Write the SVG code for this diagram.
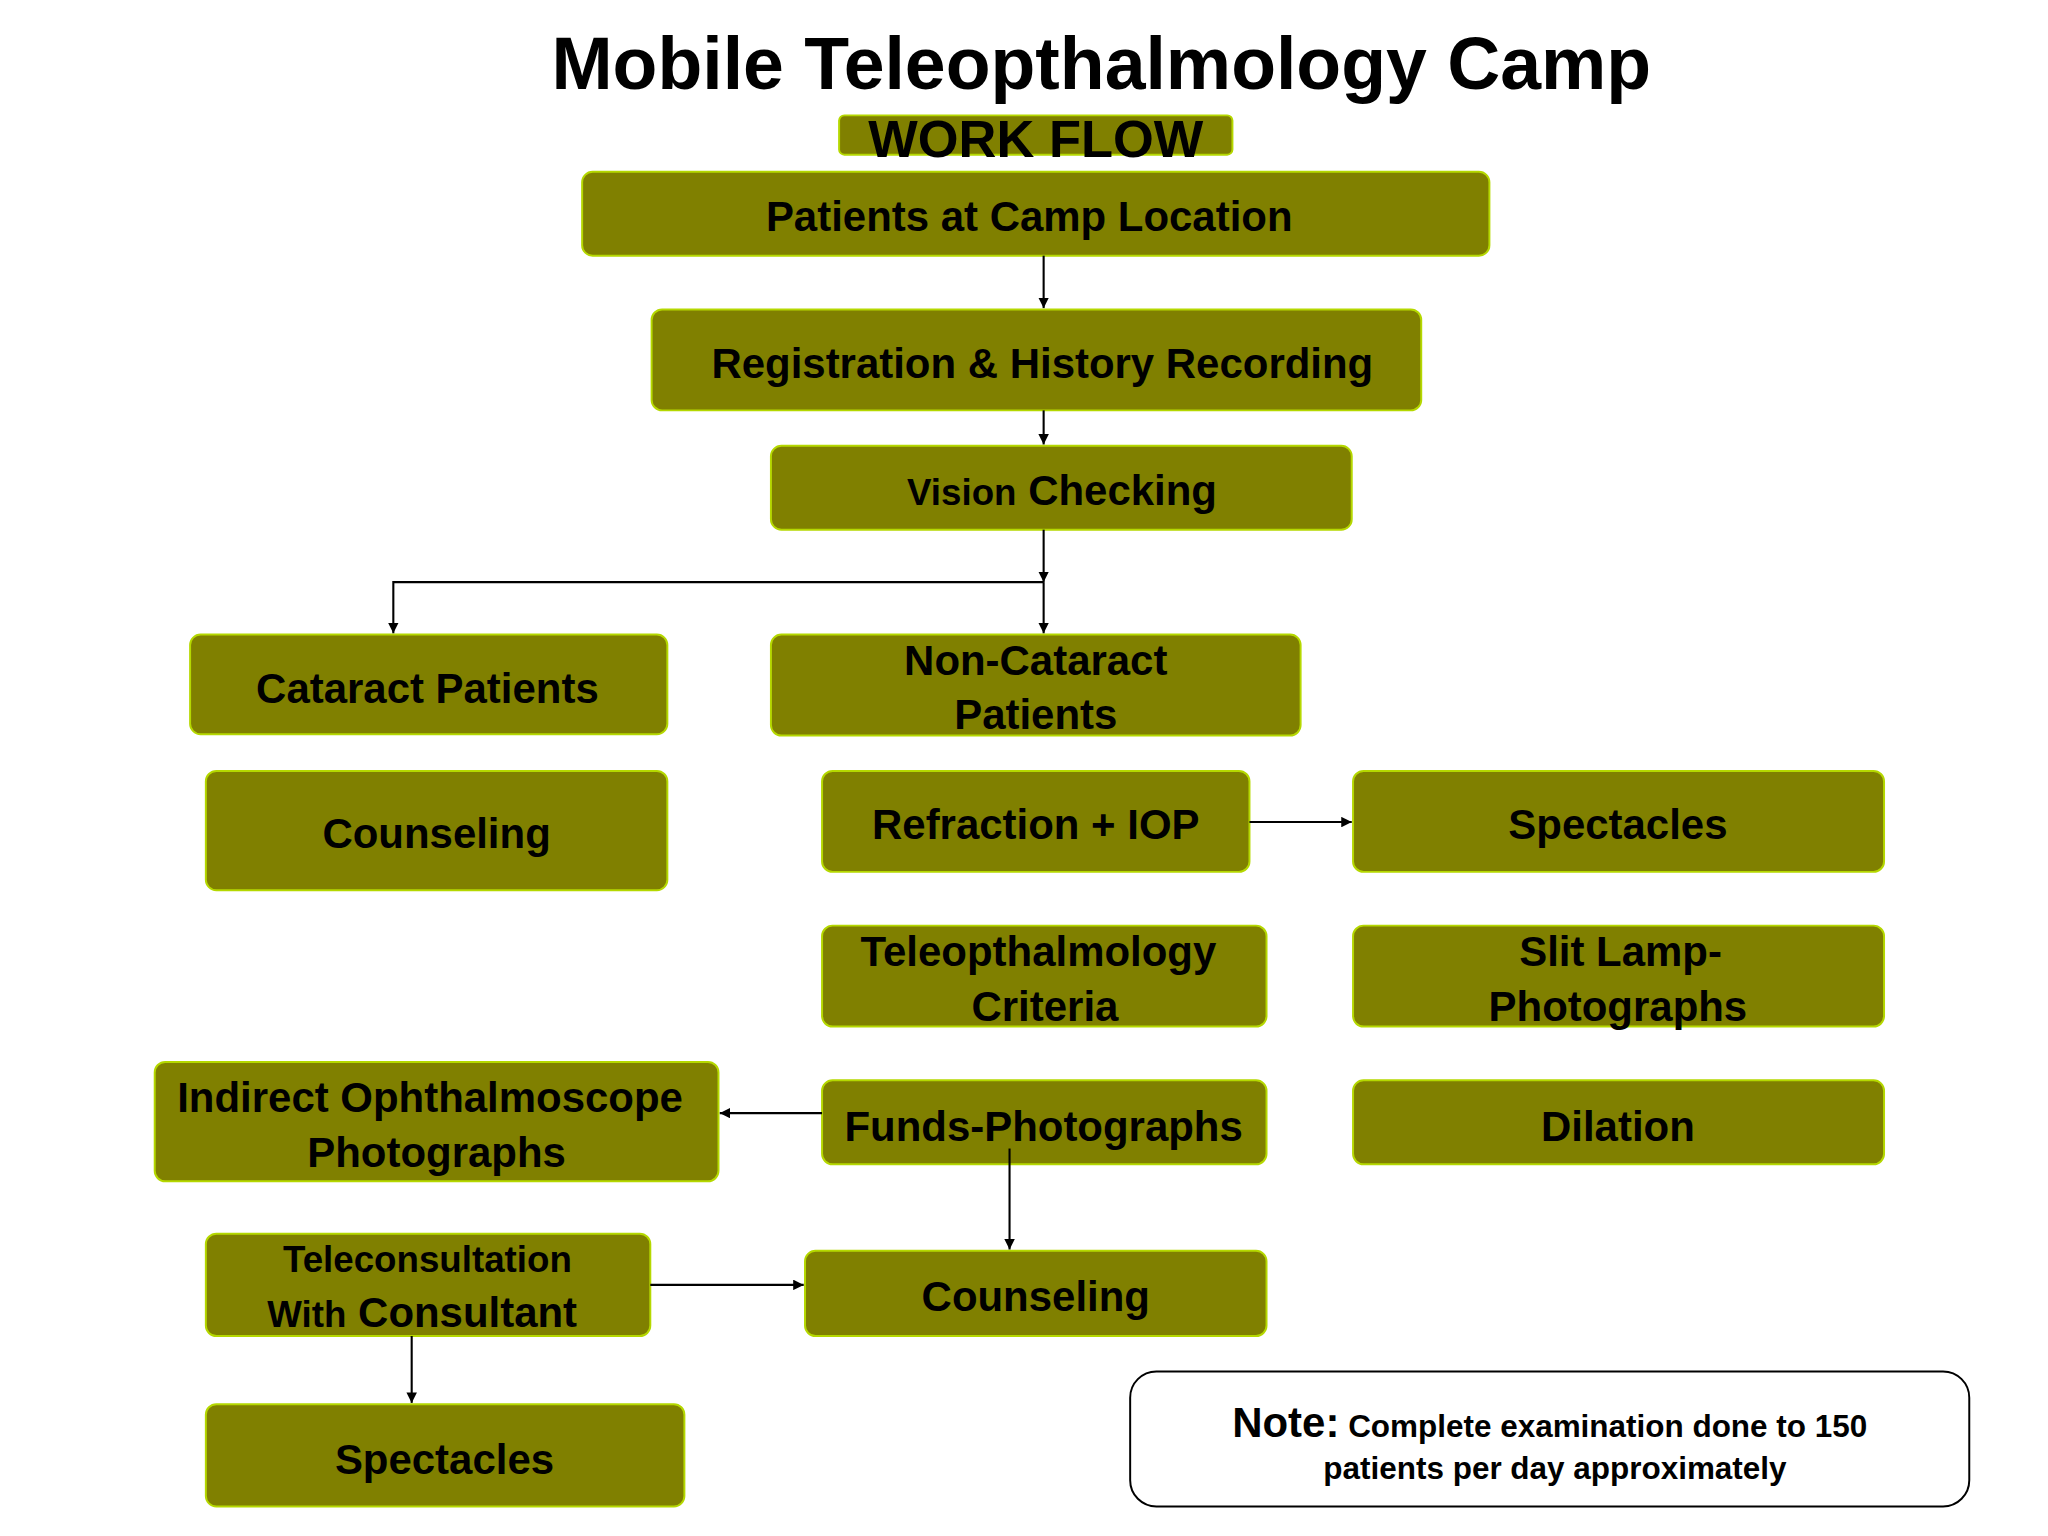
<svg xmlns="http://www.w3.org/2000/svg" width="2048" height="1536" viewBox="0 0 2048 1536">
<style>
.n{fill:#808000;stroke:#b5d800;stroke-width:1.5}
.t{font-family:"Liberation Sans",Arial,sans-serif;font-weight:bold;font-size:32px;fill:#000;text-anchor:middle}
.c{stroke:#000;stroke-width:1.6;fill:none;marker-end:url(#a)}
</style>
<defs><marker id="a" viewBox="0 0 10 10" refX="10" refY="5" markerWidth="8" markerHeight="8" orient="auto" markerUnits="userSpaceOnUse"><path d="M0,0L10,5L0,10z" fill="#000"/></marker></defs>
<rect width="2048" height="1536" fill="#fff"/>
<g transform="scale(1.3111)">
<text class="t" x="840" y="68" style="font-size:56px">Mobile Teleopthalmology Camp</text>
<g id="workflow"><rect class="n" x="640" y="88" width="300" height="30" rx="4"/><text class="t" x="790" y="120" style="font-size:40px">WORK FLOW</text></g>
<g id="n1"><rect class="n" x="444" y="131" width="692" height="64" rx="8"/><text class="t" x="785" y="176">Patients at Camp Location</text></g>
<g id="n2"><rect class="n" x="497" y="236" width="587" height="77" rx="8"/><text class="t" x="795" y="288">Registration &amp; History Recording</text></g>
<g id="n3"><rect class="n" x="588" y="340" width="443" height="64" rx="8"/><text class="t" x="810" y="385"><tspan style="font-size:28px">Vision</tspan> Checking</text></g>
<g id="n4"><rect class="n" x="145" y="484" width="364" height="76" rx="8"/><text class="t" x="326" y="536">Cataract Patients</text></g>
<g id="n5"><rect class="n" x="588" y="484" width="404" height="77" rx="8"/><text class="t" x="790" y="515">Non-Cataract</text><text class="t" x="790" y="556">Patients</text></g>
<g id="n6"><rect class="n" x="157" y="588" width="352" height="91" rx="8"/><text class="t" x="333" y="647">Counseling</text></g>
<g id="n7"><rect class="n" x="627" y="588" width="326" height="77" rx="8"/><text class="t" x="790" y="640">Refraction + IOP</text></g>
<g id="n8"><rect class="n" x="1032" y="588" width="405" height="77" rx="8"/><text class="t" x="1234" y="640">Spectacles</text></g>
<g id="n9"><rect class="n" x="627" y="706" width="339" height="77" rx="8"/><text class="t" x="792" y="737">Teleopthalmology</text><text class="t" x="797" y="779">Criteria</text></g>
<g id="n10"><rect class="n" x="1032" y="706" width="405" height="77" rx="8"/><text class="t" x="1236" y="737">Slit Lamp-</text><text class="t" x="1234" y="779">Photographs</text></g>
<g id="n11"><rect class="n" x="118" y="810" width="430" height="91" rx="8"/><text class="t" x="328" y="848">Indirect Ophthalmoscope</text><text class="t" x="333" y="890">Photographs</text></g>
<g id="n12"><rect class="n" x="627" y="824" width="339" height="64" rx="8"/><text class="t" x="796" y="870">Funds-Photographs</text></g>
<g id="n13"><rect class="n" x="1032" y="824" width="405" height="64" rx="8"/><text class="t" x="1234" y="870">Dilation</text></g>
<g id="n14"><rect class="n" x="614" y="954" width="352" height="65" rx="8"/><text class="t" x="790" y="1000">Counseling</text></g>
<g id="n15"><rect class="n" x="157" y="941" width="339" height="78" rx="8"/><text class="t" x="326" y="970" style="font-size:28px">Teleconsultation</text><text class="t" x="322" y="1012"><tspan style="font-size:28px">With</tspan> Consultant</text></g>
<g id="n16"><rect class="n" x="157" y="1071" width="365" height="78" rx="8"/><text class="t" x="339" y="1124">Spectacles</text></g>
<g id="note"><rect x="862" y="1046" width="640" height="103" rx="20" fill="#fff" stroke="#000" stroke-width="1.5"/><text class="t" x="1182" y="1096" style="font-size:24px"><tspan style="font-size:32px">Note:</tspan> Complete examination done to 150</text><text class="t" x="1186" y="1128" style="font-size:24px">patients per day approximately</text></g>
<g id="connectors">
<path class="c" d="M796,195V235"/>
<path class="c" d="M796,313V339"/>
<path class="c" d="M796,404V444"/>
<path class="c" d="M796,444V483"/>
<path class="c" d="M796,444H300V483"/>
<path class="c" d="M953,627H1031"/>
<path class="c" d="M627,849H549"/>
<path class="c" d="M770,876V953"/>
<path class="c" d="M496,980H613"/>
<path class="c" d="M314,1019V1070"/>
</g>
</g>
</svg>
